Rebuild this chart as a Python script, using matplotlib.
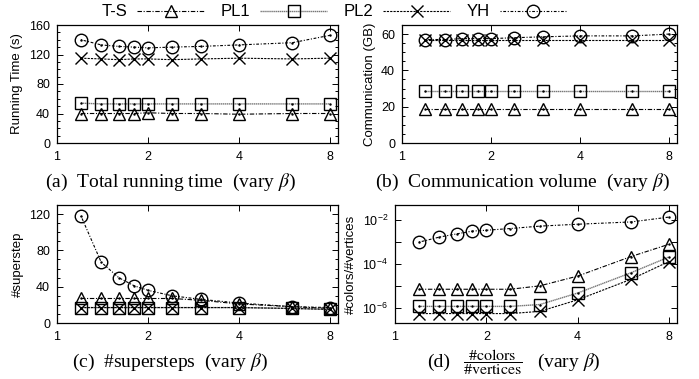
import matplotlib
matplotlib.use('Agg')
import matplotlib.pyplot as plt
from matplotlib.ticker import AutoMinorLocator, FixedLocator, NullLocator, NullFormatter

plt.rcParams['font.family'] = ['Liberation Sans', 'DejaVu Sans']
plt.rcParams['mathtext.fontset'] = 'stix'

# beta values on the x axis
beta = [1.2, 1.4, 1.6, 1.8, 2.0, 2.4, 3.0, 4.0, 6.0, 8.0]
names = ['T-S', 'PL1', 'PL2', 'YH']

# (a) running time (s)
time_ts = [40, 40, 40, 40, 41, 40, 40, 39, 40, 40]
time_pl1 = [54, 53, 53, 53, 53, 53, 53, 53, 53, 53]
time_pl2 = [115, 114, 113, 114, 114, 113, 114, 115, 114, 115]
time_yh = [140, 133, 131, 130, 129, 130, 131, 133, 136, 146]

# (b) communication (GB)
comm_ts = [19, 19, 19, 19, 19, 19, 19, 19, 19, 19]
comm_pl1 = [28.5, 28.5, 28.5, 28.5, 28.5, 28.5, 28.5, 28.5, 28.5, 28.5]
comm_pl2 = [56.5, 56.5, 56.5, 56.5, 56.5, 56.5, 56.5, 56.5, 56.5, 56.5]
comm_yh = [57, 57, 57.5, 57.5, 57.5, 58, 58.5, 59, 59, 60]

# (c) supersteps
step_ts = [27, 27, 27, 27, 27, 27, 25, 21, 18, 16]
step_pl1 = [17, 17, 17, 17, 17, 17, 17, 17, 16, 15]
step_pl2 = [17, 17, 17, 17, 17, 17, 17, 17, 16, 15]
step_yh = [118, 67, 50, 41, 36, 30, 26, 22, 18, 17]

# (d) colors / vertices
ratio_ts = [7e-6, 7e-6, 7e-6, 7e-6, 7e-6, 7e-6, 1e-5, 2.8e-5, 2.2e-4, 8e-4]
ratio_pl1 = [1.15e-6, 1.15e-6, 1.15e-6, 1.15e-6, 1.15e-6, 1.15e-6, 1.4e-6, 4.7e-6, 4e-5, 2.1e-4]
ratio_pl2 = [5.4e-7, 5.4e-7, 5.4e-7, 5.4e-7, 5.4e-7, 5.4e-7, 6.8e-7, 2.3e-6, 2e-5, 1.3e-4]
ratio_yh = [1e-3, 1.7e-3, 2.4e-3, 3.2e-3, 3.5e-3, 4.2e-3, 5.4e-3, 6.6e-3, 8.4e-3, 1.4e-2]

styles = [
    dict(color='black', marker='^', dashes=(4, 1.5, 1, 1.5), lw=0.8),
    dict(color='#777777', marker='s', dashes=(1, 0.4), lw=1.0),
    dict(color='black', marker='x', dashes=(2, 1), lw=0.8),
    dict(color='black', marker='o', dashes=(1, 1.5, 2.5, 1.5), lw=0.8),
]

panels = [
    ([time_ts, time_pl1, time_pl2, time_yh], 'Running Time (s)', (0, 160),
     [57, 338, 25, 143], r'(a)  Total running time  (vary $\beta$)'),
    ([comm_ts, comm_pl1, comm_pl2, comm_yh], 'Communication (GB)', (0, 65),
     [402, 677, 25, 143], r'(b)  Communication volume  (vary $\beta$)'),
    ([step_ts, step_pl1, step_pl2, step_yh], '#superstep', (0, 130),
     [57, 338, 205, 323], r'(c)  #supersteps  (vary $\beta$)'),
    ([ratio_ts, ratio_pl1, ratio_pl2, ratio_yh], '#colors/#vertices', (2e-7, 5e-2),
     [395, 677, 205, 323], None),
]

W, H = 699, 379
serif = ['Liberation Serif', 'DejaVu Serif']
fig = plt.figure(figsize=(W / 100, H / 100), dpi=100)

for i, (series, ylab, ylim, box, caption) in enumerate(panels):
    l, r, t, b = box
    ax = fig.add_axes([l / W, 1 - b / H, (r - l) / W, (b - t) / H])
    for name, ys, st in zip(names, series, styles):
        ax.plot(beta, ys, color=st['color'], dashes=st['dashes'], lw=st['lw'],
                marker=st['marker'], ms=9, mfc='none', mec='black', mew=1.0,
                label=name)
        ax.plot(beta, ys, ls='none', marker='.', ms=1.5, color='black')
    ax.set_xscale('log', base=2)
    ax.set_xlim(1, 8.5)
    ax.set_xticks([1, 2, 4, 8])
    ax.set_xticklabels(['1', '2', '4', '8'])
    ax.xaxis.set_minor_locator(NullLocator())
    ax.set_ylim(*ylim)
    if i == 3:
        ax.set_yscale('log')
        ax.yaxis.set_major_locator(FixedLocator([1e-6, 1e-4, 1e-2]))
        ax.yaxis.set_minor_locator(FixedLocator([1e-7, 1e-5, 1e-3]))
        ax.yaxis.set_minor_formatter(NullFormatter())
        ax.set_yticklabels([r'$\mathdefault{10^{-6}}$', r'$\mathdefault{10^{-4}}$',
                            r'$\mathdefault{10^{-2}}$'])
    else:
        ax.set_yticks(range(0, ylim[1] + 1, 20 if ylim[1] < 100 else 40))
        ax.yaxis.set_minor_locator(AutoMinorLocator(4))
    ax.tick_params(which='both', direction='in', top=True, right=True,
                   labelsize=9, width=0.7)
    ax.tick_params(which='major', length=4, pad=5)
    ax.tick_params(which='minor', length=2)
    ax.tick_params(axis='x', pad=6)
    if i == 3:
        ax.tick_params(which='minor', length=4)
    for s in ax.spines.values():
        s.set_linewidth(0.9)
    ax.set_ylabel(ylab, fontsize=9.5, labelpad=4)
    cx = 170 if i % 2 == 0 else 522
    cy = 182 if i < 2 else 362
    if caption:
        fig.text(cx / W, 1 - cy / H, caption, ha='center', va='center',
                 fontsize=14, family=serif)
    if i == 0:
        handles, labels = ax.get_legend_handles_labels()

# caption (d) with a fraction
fig.text(427 / W, 1 - 362 / H, '(d)', ha='left', va='center', fontsize=14, family=serif)
fig.text(493 / W, 1 - 362 / H, r'$\dfrac{\#\mathrm{colors}}{\#\mathrm{vertices}}$',
         ha='center', va='center', fontsize=11.5)
fig.text(537 / W, 1 - 362 / H, r'(vary $\beta$)', ha='left', va='center',
         fontsize=14, family=serif)

fig.legend(handles, labels, loc='center', bbox_to_anchor=(334 / W, 1 - 12 / H),
           ncol=4, frameon=False, markerfirst=False, fontsize=12,
           handlelength=4, handletextpad=0.6, columnspacing=1.0,
           borderaxespad=0, borderpad=0)

fig.savefig('out.png', dpi=100)
